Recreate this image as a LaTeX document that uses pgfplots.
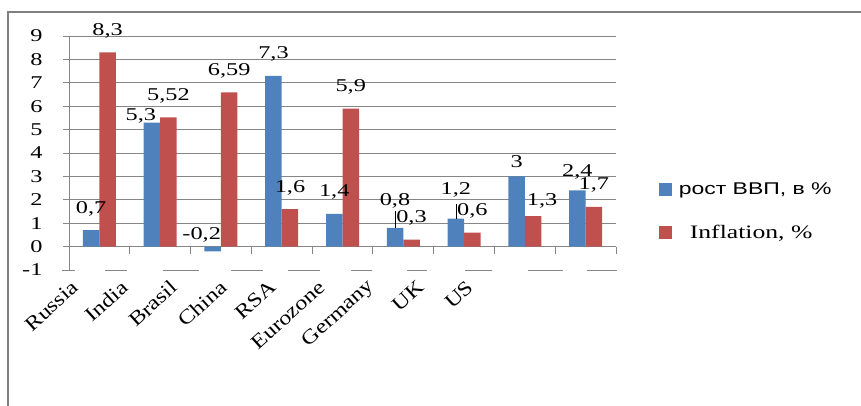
\documentclass[border=0pt]{standalone}
\usepackage{fontspec}
\setmainfont{Liberation Serif}[FakeStretch=1.35]
\setsansfont{Liberation Sans}[FakeStretch=1.35]
\newfontfamily\xfont{Liberation Serif}[FakeStretch=1.2]
\usepackage{pgfplots}
\pgfplotsset{compat=1.18}
\definecolor{gdp}{RGB}{79,129,189}
\definecolor{infl}{RGB}{192,80,77}
\definecolor{gridc}{RGB}{134,134,134}
\definecolor{framec}{RGB}{128,128,128}
\newcommand\lab{\fontsize{18}{21}\selectfont}
% label moved by dx, dy from its usual place above the bar
\newcommand\off[3]{\raisebox{#2}[0pt][0pt]{\makebox[0pt]{\hspace*{#1}\hspace*{#1}#3}}}

\begin{document}
\begin{tikzpicture}
\useasboundingbox (0,0) rectangle (861pt,406pt);
% outer frame (right and bottom edges are cut off)
\draw[framec, line width=2pt] (8pt,-10pt) -- (8pt,394pt) -- (880pt,394pt);
\begin{axis}[
    at={(69pt,136pt)}, anchor=south west,
    scale only axis, width=547pt, height=234pt,
    ybar=0pt, bar width=16.5pt,
    xmin=-0.5, xmax=8.5, ymin=-1, ymax=9,
    enlargelimits=false, clip=false,
    axis lines*=left,
    y axis line style={gridc, line width=1pt},
    x axis line style={draw=none},
    xtick={-0.138,0.674,1.487,2.3,3.112,3.925,4.737,5.55,6.362},
    xticklabels={Russia,India,Brasil,China,RSA,Eurozone,Germany,UK,US},
    xtick style={draw=none},
    xticklabel style={font=\xfont\fontsize{20}{23}\selectfont, xshift=-13pt, yshift=-6pt, rotate=42, anchor=east},
    ytick={0,...,9},
    extra y ticks={-1},
    extra y tick style={grid=none},
    ymajorgrids, grid style={gridc, line width=0.8pt},
    ytick style={gridc, line width=0.8pt},
    tick align=outside, major tick length=6pt,
    yticklabel style={font=\lab, xshift=-17pt},
    /pgf/number format/assume math mode=true,
    point meta=explicit symbolic,
    nodes near coords,
    nodes near coords style={font=\lab, anchor=base, yshift=17pt},
    legend style={at={(1.078,0.25)}, anchor=west, draw=none, fill=none,
        inner sep=0pt, row sep=25pt},
    legend cell align=left,
    legend image code/.code={\fill[#1] (0pt,-6.5pt) rectangle (13pt,6.5pt);},
]

% GDP growth
\addplot[fill=gdp, draw=none] coordinates {
    (0,0.7) [\off{0pt}{0pt}{0,7}]
    (1,5.3) [\off{-11pt}{-15pt}{5,3}]
    (2,-0.2) [\off{-11pt}{-5pt}{-0,2}]
    (3,7.3) [\off{0pt}{0pt}{7,3}]
    (4,1.4) [\off{0pt}{0pt}{1,4}]
    (5,0.8) [\off{0pt}{5pt}{0,8}]
    (6,1.2) [\off{0pt}{7pt}{1,2}]
    (7,3) [\off{0pt}{-8pt}{3}]
    (8,2.4) [\off{0pt}{-3pt}{2,4}]
};
\addlegendentry{\hspace{5pt}\sffamily\fontsize{17}{20}\selectfont рост ВВП, в \%}

% Inflation
\addplot[fill=infl, draw=none] coordinates {
    (0,8.3) [\off{0pt}{0pt}{8,3}]
    (1,5.52) [\off{0pt}{0pt}{5,52}]
    (2,6.59) [\off{0pt}{0pt}{6,59}]
    (3,1.6) [\off{0pt}{0pt}{1,6}]
    (4,5.9) [\off{0pt}{0pt}{5,9}]
    (5,0.3) [\off{0pt}{0pt}{0,3}]
    (6,0.6) [\off{0pt}{0pt}{0,6}]
    (7,1.3) [\off{9pt}{-6pt}{1,3}]
    (8,1.7) [\off{0pt}{0pt}{1,7}]
};
\addlegendentry{\hspace{16pt}\fontsize{19}{22}\selectfont Inflation, \%}

% small ticks below the zero line between categories
\pgfplotsinvokeforeach{0.5,1.5,2.5,3.5,4.5,5.5,6.5,7.5,8.5}{
    \draw[gridc, line width=0.8pt] (axis cs:#1,0) -- ++(0pt,-7pt);
}
% leader lines of the moved labels
\draw[black, line width=0.6pt] ([xshift=-8.25pt]axis cs:5,0.8) -- ++(0pt,17pt);
\draw[black, line width=0.6pt] ([xshift=-8.25pt]axis cs:6,1.2) -- ++(0pt,15pt);
\end{axis}
% broken bottom line at -1
\foreach \a/\b in {62/75,105/127,163/199,231/263,288/320,351/372,407/427,465/492,528/563,587/617}
    \draw[gridc, line width=0.8pt] (\a pt,136pt) -- (\b pt,136pt);
\end{tikzpicture}
\end{document}
